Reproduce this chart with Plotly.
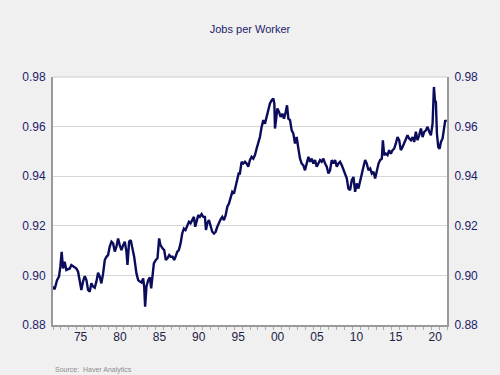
import plotly.graph_objects as go

years = [1972.00, 1972.21, 1972.51, 1972.76, 1972.93, 1973.10, 1973.27, 1973.48, 1973.69, 1974.12,
         1974.33, 1974.54, 1974.97, 1975.18, 1975.39, 1975.60, 1975.81, 1976.03, 1976.24, 1976.45,
         1976.66, 1976.87, 1977.08, 1977.30, 1977.51, 1977.72, 1977.93, 1978.14, 1978.36, 1978.57,
         1978.78, 1978.99, 1979.20, 1979.42, 1979.63, 1979.84, 1980.05, 1980.26, 1980.47, 1980.69,
         1980.90, 1981.11, 1981.32, 1981.45, 1981.66, 1981.87, 1982.08, 1982.30, 1982.59, 1982.81,
         1983.02, 1983.23, 1983.44, 1983.57, 1983.69, 1983.86, 1984.08, 1984.29, 1984.46, 1984.63,
         1984.80, 1985.05, 1985.26, 1985.47, 1985.64, 1985.90, 1986.11, 1986.32, 1986.53, 1986.75,
         1986.96, 1987.17, 1987.38, 1987.55, 1987.76, 1987.97, 1988.19, 1988.40, 1988.61, 1988.82,
         1989.03, 1989.25, 1989.46, 1989.67, 1989.88, 1990.05, 1990.22, 1990.43, 1990.64, 1990.86,
         1991.07, 1991.28, 1991.41, 1991.58, 1991.79, 1992.00, 1992.21, 1992.42, 1992.64, 1992.85,
         1993.06, 1993.27, 1993.48, 1993.69, 1993.91, 1994.12, 1994.33, 1994.54, 1994.75, 1994.97,
         1995.18, 1995.39, 1995.56, 1995.72, 1995.93, 1996.14, 1996.36, 1996.57, 1996.78, 1996.99,
         1997.20, 1997.42, 1997.63, 1997.84, 1998.05, 1998.26, 1998.48, 1998.69, 1998.90, 1999.11,
         1999.32, 1999.53, 1999.75, 1999.96, 2000.09, 2000.17, 2000.30, 2000.47, 2000.68, 2000.89,
         2001.10, 2001.31, 2001.53, 2001.70, 2001.87, 2002.08, 2002.29, 2002.50, 2002.71, 2002.92,
         2003.14, 2003.35, 2003.56, 2003.77, 2003.98, 2004.20, 2004.41, 2004.62, 2004.83, 2005.04,
         2005.25, 2005.47, 2005.68, 2005.89, 2006.10, 2006.31, 2006.53, 2006.74, 2006.95, 2007.16,
         2007.37, 2007.59, 2007.80, 2008.01, 2008.22, 2008.43, 2008.65, 2008.86, 2009.07, 2009.28,
         2009.49, 2009.70, 2009.92, 2010.13, 2010.34, 2010.55, 2010.76, 2010.98, 2011.19, 2011.40,
         2011.61, 2011.82, 2012.03, 2012.25, 2012.46, 2012.67, 2012.88, 2013.09, 2013.31, 2013.52,
         2013.73, 2013.86, 2014.03, 2014.24, 2014.45, 2014.66, 2014.87, 2015.09, 2015.30, 2015.51,
         2015.72, 2015.93, 2016.14, 2016.36, 2016.57, 2016.78, 2016.99, 2017.20, 2017.42, 2017.63,
         2017.84, 2018.05, 2018.26, 2018.47, 2018.69, 2018.90, 2019.11, 2019.32, 2019.53, 2019.75,
         2019.96, 2020.17, 2020.34, 2020.47, 2020.59, 2020.72, 2020.89, 2021.06, 2021.23, 2021.44,
         2021.61, 2021.78, 2021.91]

jobs_per_worker = [0.8955, 0.8944, 0.8981, 0.8995, 0.9035, 0.9095, 0.9028, 0.9055, 0.9022, 0.9028,
                   0.9042, 0.9038, 0.9028, 0.9015, 0.8981, 0.8941, 0.8975, 0.8997, 0.8981, 0.8941,
                   0.8934, 0.8968, 0.8955, 0.8950, 0.8975, 0.9011, 0.8995, 0.8968, 0.9008, 0.9062,
                   0.9075, 0.9082, 0.9116, 0.9136, 0.9129, 0.9096, 0.9116, 0.9149, 0.9122, 0.9102,
                   0.9122, 0.9136, 0.9096, 0.9042, 0.9136, 0.9142, 0.9109, 0.9075, 0.9008, 0.8981,
                   0.8975, 0.8971, 0.8988, 0.8955, 0.8874, 0.8955, 0.8981, 0.8992, 0.8948, 0.9008,
                   0.9048, 0.9062, 0.9069, 0.9149, 0.9122, 0.9109, 0.9102, 0.9062, 0.9069, 0.9082,
                   0.9075, 0.9075, 0.9062, 0.9075, 0.9095, 0.9102, 0.9129, 0.9169, 0.9189, 0.9183,
                   0.9203, 0.9216, 0.9210, 0.9223, 0.9236, 0.9196, 0.9223, 0.9243, 0.9236, 0.9247,
                   0.9236, 0.9236, 0.9183, 0.9210, 0.9223, 0.9196, 0.9176, 0.9169, 0.9176, 0.9196,
                   0.9212, 0.9226, 0.9236, 0.9223, 0.9243, 0.9277, 0.9290, 0.9317, 0.9337, 0.9330,
                   0.9357, 0.9384, 0.9411, 0.9411, 0.9458, 0.9451, 0.9458, 0.9451, 0.9438, 0.9465,
                   0.9478, 0.9471, 0.9485, 0.9511, 0.9532, 0.9558, 0.9599, 0.9626, 0.9612, 0.9639,
                   0.9666, 0.9693, 0.9706, 0.9713, 0.9693, 0.9592, 0.9626, 0.9673, 0.9659, 0.9639,
                   0.9652, 0.9632, 0.9659, 0.9686, 0.9632, 0.9626, 0.9585, 0.9572, 0.9532, 0.9558,
                   0.9511, 0.9471, 0.9451, 0.9444, 0.9424, 0.9458, 0.9478, 0.9458, 0.9471, 0.9451,
                   0.9465, 0.9438, 0.9451, 0.9465, 0.9458, 0.9471, 0.9451, 0.9438, 0.9411, 0.9424,
                   0.9465, 0.9451, 0.9465, 0.9438, 0.9451, 0.9458, 0.9444, 0.9424, 0.9411, 0.9391,
                   0.9350, 0.9344, 0.9384, 0.9397, 0.9337, 0.9371, 0.9350, 0.9384, 0.9404, 0.9438,
                   0.9465, 0.9451, 0.9424, 0.9431, 0.9411, 0.9418, 0.9391, 0.9424, 0.9451, 0.9465,
                   0.9471, 0.9545, 0.9485, 0.9491, 0.9485, 0.9505, 0.9491, 0.9505, 0.9511, 0.9532,
                   0.9558, 0.9545, 0.9505, 0.9518, 0.9532, 0.9545, 0.9565, 0.9552, 0.9545, 0.9558,
                   0.9538, 0.9579, 0.9545, 0.9565, 0.9592, 0.9558, 0.9579, 0.9585, 0.9599, 0.9579,
                   0.9565, 0.9612, 0.9760, 0.9706, 0.9699, 0.9572, 0.9518, 0.9511, 0.9538, 0.9552,
                   0.9585, 0.9626, 0.9619]

label_years = [1975.5, 1980.5, 1985.5, 1990.5, 1995.5, 2000.5, 2005.5, 2010.5, 2015.5, 2020.5]
label_text = ["75", "80", "85", "90", "95", "00", "05", "10", "15", "20"]
minor_years = list(range(1972, 2023))
y_ticks = [0.88, 0.90, 0.92, 0.94, 0.96, 0.98]
y_text = ["0.88", "0.90", "0.92", "0.94", "0.96", "0.98"]

navy = "#1c1c6b"
line_col = "#0c0c5c"

fig = go.Figure()
fig.add_trace(go.Scatter(x=years, y=jobs_per_worker, mode="lines",
                         line=dict(color=line_col, width=2.4), showlegend=False,
                         hoverinfo="skip"))
fig.add_trace(go.Scatter(x=years, y=jobs_per_worker, mode="lines", yaxis="y2",
                         line=dict(color="rgba(0,0,0,0)", width=0), showlegend=False,
                         hoverinfo="skip"))

fig.update_layout(
    width=500, height=375,
    margin=dict(l=53, r=53, t=77, b=50),
    paper_bgcolor="#f0f0f0",
    plot_bgcolor="#ffffff",
    font=dict(family="Liberation Sans, Arial, sans-serif", color=navy),
    title=dict(text="Jobs per Worker", x=0.5, xanchor="center", y=0.922, yanchor="middle",
               font=dict(size=11, color=navy)),
    xaxis=dict(range=[1972, 2022], tickvals=label_years, ticktext=label_text,
               ticks="", showgrid=False, zeroline=False,
               showline=True, linecolor="#999999", linewidth=2, mirror=False,
               tickfont=dict(size=12, color="#222244"),
               minor=dict(tickvals=minor_years, ticks="outside", ticklen=3,
                          tickcolor="#aaaaaa", tickwidth=1, showgrid=False)),
    yaxis=dict(range=[0.88, 0.98], tickvals=y_ticks, ticktext=y_text, ticks="",
               showgrid=True, gridcolor="#d6d6d6", gridwidth=1, zeroline=False,
               showline=True, linecolor="#999999", linewidth=2,
               tickfont=dict(size=12, color=navy), ticklabelstandoff=3),
    yaxis2=dict(range=[0.88, 0.98], tickvals=y_ticks, ticktext=y_text, ticks="",
                overlaying="y", side="right", showgrid=False, zeroline=False,
                showline=True, linecolor="#999999", linewidth=2,
                tickfont=dict(size=12, color=navy), ticklabelstandoff=3),
    shapes=[dict(type="line", xref="paper", yref="paper", x0=0, x1=1, y0=1, y1=1,
                 line=dict(color="#cccccc", width=1))],
    annotations=[dict(text="Source:  Haver Analytics", xref="paper", yref="paper",
                      x=0.0, y=-0.18, xanchor="left", yanchor="middle", showarrow=False,
                      font=dict(size=7, color="#8c8c8c"))],
)

fig.write_html("out.html", config={"displayModeBar": False},
               post_script="document.body.style.margin='0px';")
